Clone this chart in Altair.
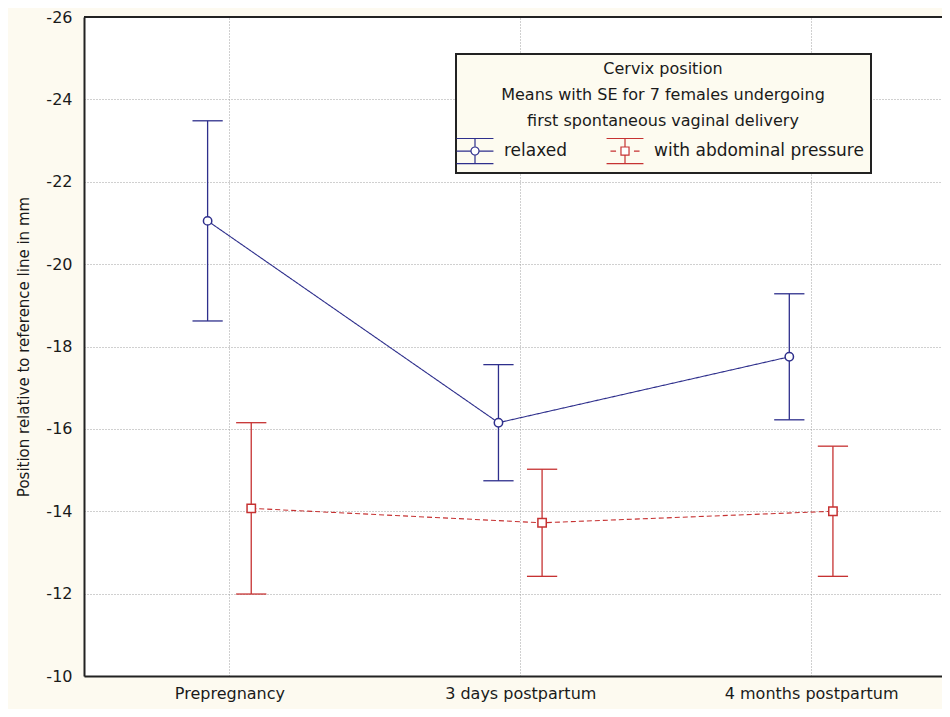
import altair as alt
import pandas as pd

categories = ["Prepregnancy", "3 days postpartum", "4 months postpartum"]
series = ["relaxed", "with abdominal pressure"]
relaxed_mean = [-21.05, -16.15, -17.75]
relaxed_se = [2.43, 1.41, 1.53]
pressure_mean = [-14.07, -13.72, -14.00]
pressure_se = [2.08, 1.30, 1.58]
y_ticks = [-26, -24, -22, -20, -18, -16, -14, -12, -10]
legend_title = ["Cervix position",
                "Means with SE for 7 females undergoing",
                "first spontaneous vaginal delivery"]

BLUE = "#2e2f8c"
RED = "#c63232"
FONT = "DejaVu Sans"
series_offset = {series[0]: -0.075, series[1]: 0.075}
cap_half = 0.052

rows = []
for s, means, ses in [(series[0], relaxed_mean, relaxed_se),
                      (series[1], pressure_mean, pressure_se)]:
    for i, c in enumerate(categories):
        x = i + series_offset[s]
        rows.append(dict(series=s, cat=c, x=x, mean=means[i],
                         lo=means[i] - ses[i], hi=means[i] + ses[i],
                         xl=x - cap_half, xr=x + cap_half))
df = pd.DataFrame(rows)

x_dom = [-0.5, 2.45]
x_scale = alt.Scale(domain=x_dom, nice=False, zero=False)
y_scale = alt.Scale(domain=[y_ticks[0], y_ticks[-1]], reverse=True, nice=False, zero=False)

def cscale():
    return alt.Scale(domain=series, range=[BLUE, RED])

label_list = "[" + ",".join("'" + c + "'" for c in categories) + "]"
x_axis = alt.Axis(values=list(range(len(categories))), labelExpr=label_list + "[datum.value]",
                  title=None, grid=True, labelPadding=9, orient="bottom")
y_axis = alt.Axis(values=y_ticks, labelExpr="datum.value + ''",
                  title="Position relative to reference line in mm", grid=True,
                  labelPadding=12, titlePadding=14, titleFontSize=15)

X = alt.X("x:Q", scale=x_scale, axis=x_axis)
Y = alt.Y("mean:Q", scale=y_scale, axis=y_axis)
C = alt.Color("series:N", scale=cscale(), legend=None)

base = alt.Chart(df)

line = base.mark_line(strokeWidth=1.1).encode(
    x=X, y=Y, color=C,
    strokeDash=alt.StrokeDash("series:N", scale=alt.Scale(domain=series, range=[[1, 0], [5, 3]]), legend=None),
    detail="series:N",
)

vbar = base.mark_rule(strokeWidth=1.3).encode(
    x=alt.X("x:Q", scale=x_scale), y=alt.Y("lo:Q", scale=y_scale), y2="hi:Q", color=C)

cap_lo = base.mark_rule(strokeWidth=1.3).encode(
    x=alt.X("xl:Q", scale=x_scale), x2="xr:Q", y=alt.Y("lo:Q", scale=y_scale), color=C)
cap_hi = base.mark_rule(strokeWidth=1.3).encode(
    x=alt.X("xl:Q", scale=x_scale), x2="xr:Q", y=alt.Y("hi:Q", scale=y_scale), color=C)

relaxed_glyph = ("M-1.65,-1.12H1.65M0,-1.12V-0.36M-1.65,1.12H1.65M0,1.12V0.36"
                 "M-1.65,0H-0.36M0.36,0H1.65"
                 "M-0.36,0A0.36,0.36,0,1,0,0.36,0A0.36,0.36,0,1,0,-0.36,0Z")
pressure_glyph = ("M-1.65,-1.12H1.65M0,-1.12V-0.36M-1.65,1.12H1.65M0,1.12V0.36"
                  "M-1.3,0H-0.8M0.8,0H1.3"
                  "M-0.36,-0.36H0.36V0.36H-0.36Z")

legend = alt.Legend(
    title=legend_title, orient="none", legendX=372, legendY=37,
    direction="horizontal", titleAnchor="middle", titleAlign="center",
    titleFont=FONT, titleFontSize=16, titleFontWeight="normal", titleLineHeight=26,
    titleColor="#1a1a1a", titlePadding=10, titleLimit=800,
    labelFont=FONT, labelFontSize=17, labelColor="#1a1a1a", labelOffset=17, labelLimit=600,
    symbolSize=500, symbolStrokeWidth=1.2, symbolOpacity=1, columnPadding=36,
    fillColor="#fdfbf0", strokeColor="#222222", padding=7,
)

# legend-only layer: no rows survive the filter, the legend comes from the scale domains
legend_layer = base.transform_filter("false").mark_point(filled=False, fill="white").encode(
    x=alt.X("x:Q", scale=x_scale), y=alt.Y("mean:Q", scale=y_scale),
    color=alt.Color("series:N", scale=cscale(), legend=legend),
    shape=alt.Shape("series:N", scale=alt.Scale(domain=series, range=[relaxed_glyph, pressure_glyph]), legend=legend),
)

pts_relaxed = base.transform_filter(alt.datum.series == series[0]).mark_point(
    shape="circle", filled=False, fill="white", size=70, strokeWidth=1.5, opacity=1).encode(
    x=X, y=Y, color=C)
pts_pressure = base.transform_filter(alt.datum.series == series[1]).mark_point(
    shape="square", filled=False, fill="white", size=70, strokeWidth=1.5, opacity=1).encode(
    x=X, y=Y, color=C)

top_border = alt.Chart(pd.DataFrame({"a": [0]})).mark_rule(color="#222222", strokeWidth=2).encode(
    x=alt.datum(x_dom[0], scale=x_scale), x2=alt.datum(x_dom[1]),
    y=alt.datum(y_ticks[0], scale=y_scale),
)

chart = alt.layer(line, vbar, cap_lo, cap_hi, pts_relaxed, pts_pressure, top_border, legend_layer).resolve_scale(
    color="independent", shape="independent", strokeDash="independent",
).properties(
    width=858, height=659,
    autosize=alt.AutoSizeParams(type="none"),
    padding={"left": 76, "top": 9, "right": 0, "bottom": 33},
    background="#fdfaf0",
).configure_view(
    fill="white", stroke=None,
).configure_axis(
    domainColor="#222222", domainWidth=2, gridColor="#a0a0a0", gridDash=[1, 2],
    gridWidth=1, ticks=False, labelFont=FONT, labelFontSize=16, labelColor="#1a1a1a",
    titleFont=FONT, titleFontWeight="normal", titleColor="#1a1a1a",
).configure_legend(strokeWidth=2)

chart.save("out.html", embed_options={"renderer": "svg", "actions": False})
